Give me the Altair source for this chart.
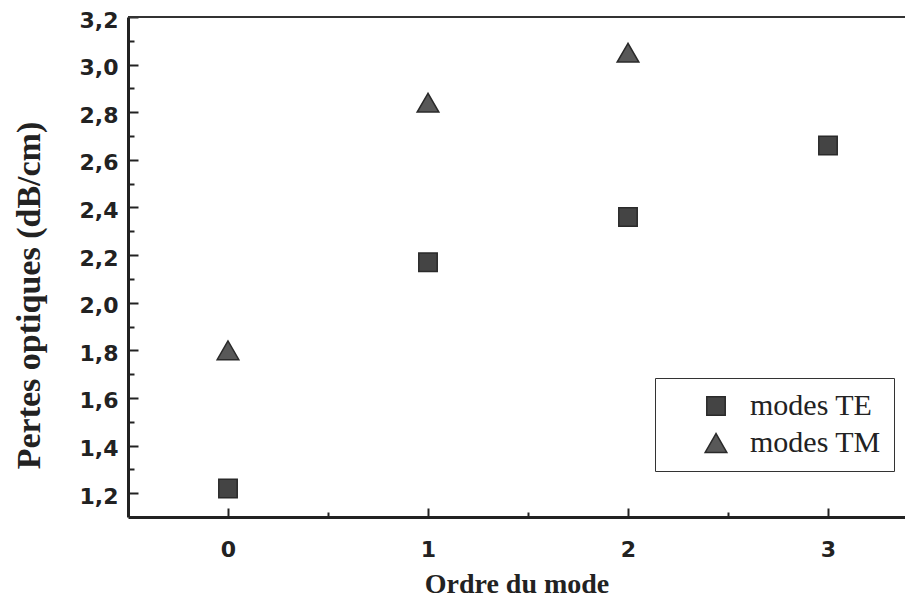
import altair as alt
import pandas as pd

# ---- data ----
te_order = [0, 1, 2, 3]
te_losses = [1.22, 2.17, 2.36, 2.66]
tm_order = [0, 1, 2]
tm_losses = [1.80, 2.84, 3.05]
series = ["modes TE", "modes TM"]

x_major = [0, 1, 2, 3]
x_minor = [0.5, 1.5, 2.5]
y_major = [1.2, 1.4, 1.6, 1.8, 2.0, 2.2, 2.4, 2.6, 2.8, 3.0, 3.2]
y_minor = [1.3, 1.5, 1.7, 1.9, 2.1, 2.3, 2.5, 2.7, 2.9, 3.1]

x_domain = [-0.5, 3.385]
y_domain = [1.1, 3.2]

W, H = 777, 500

df = pd.DataFrame({
    "ordre": te_order + tm_order,
    "pertes": te_losses + tm_losses,
    "serie": [series[0]] * len(te_order) + [series[1]] * len(tm_order),
})

xs = alt.Scale(domain=x_domain, nice=False, zero=False)
ys = alt.Scale(domain=y_domain, nice=False, zero=False)
label_expr = "replace(format(datum.value, '.1f'), '.', ',')"

INK = "#222222"

legend = alt.Legend(
    title=None, orient="none", legendX=527, legendY=361,
    strokeColor="#333333", fillColor="white", padding=13,
    symbolOffset=33, labelFont="Liberation Serif", labelFontSize=30,
    labelColor=INK, labelOffset=19, rowPadding=7,
    symbolStrokeColor="#2a2a2a", symbolStrokeWidth=1.5,
)

points = alt.Chart(df).mark_point(
    filled=True, opacity=1, stroke="#2a2a2a", strokeWidth=1.5
).encode(
    x=alt.X("ordre:Q", scale=xs, axis=alt.Axis(
        values=x_major, title="Ordre du mode", ticks=False, labelPadding=22,
        labelFont="DejaVu Sans", labelFontWeight="bold", labelFontSize=22,
        labelColor=INK, titleFont="Liberation Serif", titleFontWeight="bold",
        titleFontSize=28, titleColor=INK, titlePadding=10,
        domainColor=INK, domainWidth=3, grid=False)),
    y=alt.Y("pertes:Q", scale=ys, axis=alt.Axis(
        values=y_major, labelExpr=label_expr, title="Pertes optiques (dB/cm)",
        ticks=False, labelPadding=10, labelOffset=3, labelFont="DejaVu Sans",
        labelFontWeight="bold", labelFontSize=22, labelColor=INK,
        titleFont="Liberation Serif", titleFontWeight="bold", titleFontSize=34,
        titleColor=INK, titlePadding=33, titleY=278, domainColor=INK,
        domainWidth=3, grid=False)),
    shape=alt.Shape("serie:N", scale=alt.Scale(domain=series, range=["square", "triangle-up"]), legend=legend),
    color=alt.Color("serie:N", scale=alt.Scale(domain=series, range=["#444444", "#585858"]), legend=legend),
    size=alt.Size("serie:N", scale=alt.Scale(domain=series, range=[340, 470]), legend=legend),
)


def tick_layer(xvals, yvals, xsize, ysize):
    return alt.Chart(df).mark_point(opacity=0).encode(
        x=alt.X("ordre:Q", scale=xs, axis=alt.Axis(
            orient="top", offset=-H, values=xvals, labels=False, domain=False,
            tickSize=xsize, tickWidth=2, tickColor=INK, title=None, grid=False)),
        y=alt.Y("pertes:Q", scale=ys, axis=alt.Axis(
            orient="right", offset=-W, values=yvals, labels=False, domain=False,
            tickSize=ysize, tickWidth=2, tickColor=INK, title=None, grid=False)),
    )


major = tick_layer(x_major, y_major, 9, 10)
minor = tick_layer(x_minor, y_minor, 5, 6)

top_line = alt.Chart(df).mark_rule(color="#333333", strokeWidth=2).encode(
    y=alt.Y(datum=y_domain[1], type="quantitative", scale=ys, axis=None)
)

chart = alt.layer(top_line, major, minor, points).resolve_scale(
    x="independent", y="independent", shape="shared", color="shared", size="shared"
).resolve_axis(x="independent", y="independent").properties(
    width=W, height=H,
    padding={"left": 120, "top": 9, "right": 0, "bottom": 80},
    autosize=alt.AutoSizeParams(type="none"),
    background="white",
).configure_view(stroke=None)

chart.save("out.html", embed_options={"renderer": "svg", "actions": False})
